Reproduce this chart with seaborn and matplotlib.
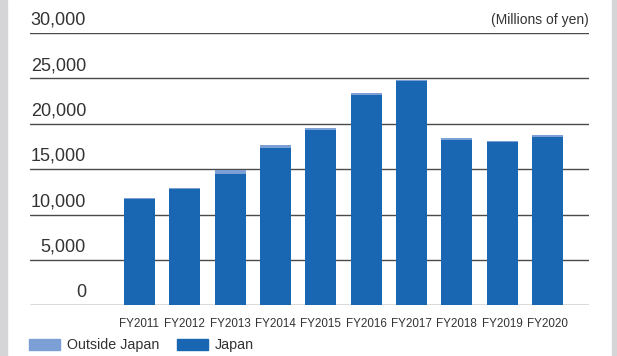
import matplotlib
matplotlib.use("Agg")
import matplotlib.pyplot as plt
from matplotlib.patches import Rectangle, Patch
import seaborn as sns
import pandas as pd

years = ["FY2011", "FY2012", "FY2013", "FY2014", "FY2015",
         "FY2016", "FY2017", "FY2018", "FY2019", "FY2020"]
japan = [11720, 12830, 14510, 17350, 19330, 23190, 24740, 18230, 17980, 18560]
outside = [110, 110, 440, 330, 220, 220, 110, 220, 140, 220]
y_ticks = [0, 5000, 10000, 15000, 20000, 25000, 30000]
unit_label = "(Millions of yen)"

dark_blue = "#1967b3"
light_blue = "#7c9fd5"
text_col = "#333333"

totals = [j + o for j, o in zip(japan, outside)]
df = pd.DataFrame({"year": years, "Japan": japan, "Total": totals})

sns.set_theme(style="white")
plt.rcParams["font.family"] = ["Liberation Sans", "DejaVu Sans"]

fig = plt.figure(figsize=(6.17, 3.56), dpi=100)
ax = fig.add_axes([30 / 617, 1 - 305.3 / 356, (589 - 30) / 617, (305.3 - 33) / 356])

# stacked look: total in light blue, Japan drawn over it in dark blue
sns.barplot(data=df, x="year", y="Total", color=light_blue, width=0.68,
            saturation=1, ax=ax, zorder=3)
sns.barplot(data=df, x="year", y="Japan", color=dark_blue, width=0.68,
            saturation=1, ax=ax, zorder=4)
for p in ax.patches:
    p.set_linewidth(0)

ax.set_xlim(-2.415, 9.916)
ax.set_ylim(0, 30000)
ax.set_xlabel("")
ax.set_ylabel("")
for s in ax.spines.values():
    s.set_visible(False)

# horizontal rules with the value written above each one
for v in y_ticks:
    ax.axhline(v, color="#4a4a4a", lw=1.0, zorder=2)
    ax.annotate(f"{v:,}", xy=(86, v), xycoords=("figure pixels", "data"),
                xytext=(0, 3), textcoords="offset points",
                ha="right", va="bottom", fontsize=13, color=text_col)
ax.set_yticks([])

ax.set_xticks(range(len(years)))
ax.set_xticklabels(years, fontsize=8.4, color=text_col,
                   family=["Liberation Sans Narrow", "Liberation Sans"])
ax.tick_params(axis="x", length=0, pad=9)

fig.text(589 / 617, 1 - 20 / 356, unit_label, ha="right", va="center",
         fontsize=10, color=text_col)

# side strips of the panel
fig.patches.append(Rectangle((0, 0), 7 / 617, 1, transform=fig.transFigure,
                             color="#d5d5d7", zorder=0))
fig.patches.append(Rectangle((612 / 617, 0), 5 / 617, 1, transform=fig.transFigure,
                             color="#d5d5d7", zorder=0))

handles = [Patch(color=light_blue, label="Outside Japan"),
           Patch(color=dark_blue, label="Japan")]
fig.legend(handles=handles, loc="center left", bbox_to_anchor=(16 / 617, 1 - 345 / 356),
           ncol=2, frameon=False, fontsize=10.3, handlelength=2.15, handleheight=0.8,
           handletextpad=0.5, columnspacing=1.25, labelcolor=text_col)

fig.savefig("out.png", dpi=100)
